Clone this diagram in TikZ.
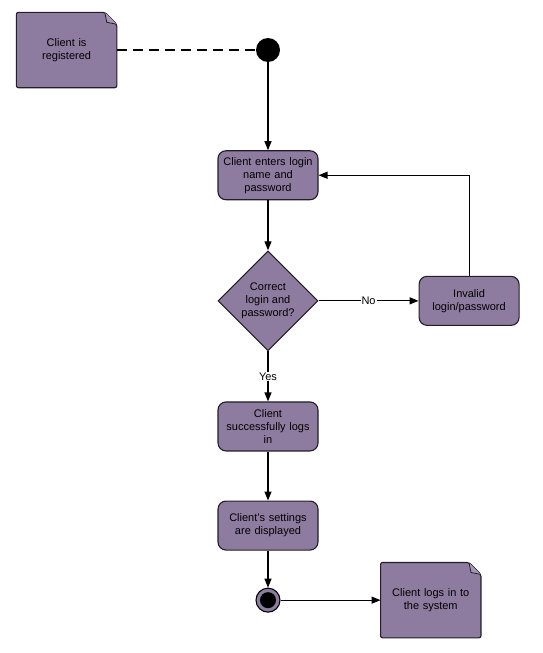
\documentclass[tikz,border=0pt]{standalone}
\usepackage{fontspec}
\setmainfont{Liberation Sans}
\usetikzlibrary{positioning, arrows.meta, shapes.geometric, calc, backgrounds}
\definecolor{umlPurple}{RGB}{142,124,160}
\definecolor{umlLine}{RGB}{34,30,38}
\tikzset{
	actbox/.style={rectangle, draw=umlLine, line width=1.1pt, rounded corners=8pt,
		fill=umlPurple, minimum width=100pt, minimum height=49pt, text width=96pt,
		align=center, font=\fontsize{11}{13}\selectfont, inner sep=1pt},
	decision/.style={diamond, draw=umlLine, line width=1.1pt, fill=umlPurple,
		minimum width=100pt, minimum height=100pt, align=center,
		font=\fontsize{11}{13}\selectfont, inner sep=0pt},
	notebox/.style={rectangle, minimum width=100pt, minimum height=75pt,
		text width=96pt, align=center, font=\fontsize{11}{13}\selectfont, inner sep=1pt},
	noteshape/.style={draw=umlLine, line width=1.1pt, fill=umlPurple, rounded corners=2pt},
	startdot/.style={circle, fill=black, minimum size=24pt, inner sep=0pt},
	enddot/.style={circle, draw=black, line width=1.1pt, fill=umlPurple, minimum size=24pt,
		inner sep=0pt, path picture={\fill[black] (path picture bounding box.center) circle (8pt);}},
	flowarr/.style={-{Triangle[length=9pt, width=7pt]}, line width=1.2pt, draw=black},
	dashline/.style={line width=1.2pt, dash pattern=on 10pt off 6pt},
	edgelabel/.style={font=\fontsize{11}{13}\selectfont, fill=white, inner sep=1pt}
}
% note outline with folded corner, drawn behind the named node
\newcommand{\notefold}[1]{%
	\draw[noteshape] (#1.north west) -- ($(#1.north east)+(-12pt,0)$)
		-- ($(#1.north east)+(0,-12pt)$) -- (#1.south east) -- (#1.south west) -- cycle;
	\draw[umlLine, line width=0.8pt, fill=umlPurple!80!white]
		($(#1.north east)+(-12pt,0)$) -- ($(#1.north east)+(-10pt,-10pt)$)
		-- ($(#1.north east)+(0,-12pt)$);
}

\begin{document}
\begin{tikzpicture}[x=1pt, y=1pt]
	\useasboundingbox (0,0) rectangle (542,-653);
	\node[startdot] (start) at (268,-50) {};
	\node[notebox, left=139pt of start] (registered) {Client is\\registered};
	\node[actbox, below=88pt of start] (login) {Client enters login\\name and\\password};
	\node[decision, below=50pt of login] (check) {Correct\\login and\\password?};
	\node[actbox, right=100pt of check] (invalid) {Invalid\\login/password};
	\node[actbox, below=50pt of check] (success) {Client\\successfully logs\\in};
	\node[actbox, below=49pt of success] (settings) {Client's settings\\are displayed};
	\node[enddot, below=37pt of settings] (finish) {};
	\node[notebox, right=100pt of finish] (loggedin) {Client logs in to\\the system};
	\begin{scope}[on background layer]
		\notefold{registered}
		\notefold{loggedin}
	\end{scope}
	\draw[dashline] (registered) -- (start);
	\draw[flowarr] (start) -- (login);
	\draw[flowarr] (login) -- (check);
	\draw[flowarr] (check) -- node[edgelabel] {No} (invalid);
	\draw[flowarr] (invalid.north) |- (login.east);
	\draw[flowarr] (check) -- node[edgelabel] {Yes} (success);
	\draw[flowarr] (success) -- (settings);
	\draw[flowarr] (settings) -- (finish);
	\draw[flowarr] (finish) -- (loggedin);
\end{tikzpicture}
\end{document}
